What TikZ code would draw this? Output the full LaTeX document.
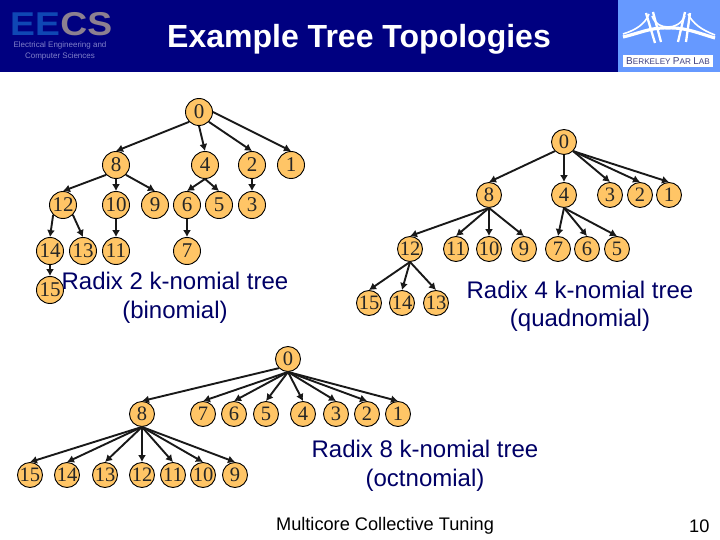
\documentclass[tikz,border=0pt]{standalone}
\usepackage{fontspec}
\setmainfont{Liberation Sans}
\newfontfamily\numfont{Liberation Serif}
\usepackage{xcolor}
\usetikzlibrary{arrows.meta, positioning}
\definecolor{headerblue}{HTML}{000080}
\definecolor{logoblue}{HTML}{6699FF}
\definecolor{eeblue}{HTML}{0F47B4}
\definecolor{csgray}{HTML}{8C8090}
\definecolor{smallblue}{HTML}{8080C8}
\definecolor{nodeorange}{HTML}{FFC566}
\definecolor{captionblue}{HTML}{000066}
\definecolor{labtext}{HTML}{404080}
\tikzset{
    treenode/.style={
        circle,
        draw=black,
        fill=nodeorange,
        line width=0.9pt,
        inner sep=0pt,
        text=black!85,
        font=\numfont\fontsize{21}{21}\selectfont
    },
    bignode/.style={treenode, minimum size=27pt},
    midnode/.style={treenode, minimum size=25pt, font=\numfont\fontsize{20.5}{20.5}\selectfont},
    flow/.style={-{Latex[length=7pt, width=8pt]}, line width=1.9pt, draw=black!90},
    caption/.style={align=center, text=captionblue, font=\fontsize{24}{28.5}\selectfont},
    footer/.style={text=black, font=\fontsize{18.2}{20}\selectfont},
    bridge/.style={draw=white, line width=2.3pt}
}

\begin{document}
\begin{tikzpicture}[x=1pt, y=-1pt]
    \useasboundingbox (0,0) rectangle (720,540);

    % header
    \fill[headerblue] (0,0) rectangle (720,72.5);
    \fill[logoblue] (618,0) rectangle (720,72.5);
    \node[font=\bfseries\fontsize{33}{33}\selectfont, text=eeblue, anchor=west, inner sep=0pt] (ee) at (10,24) {\scalebox{1.13}[1]{EE}};
    \node[font=\bfseries\fontsize{33}{33}\selectfont, text=csgray, anchor=west, inner sep=0pt] (cs) at (ee.east) {\scalebox{1.13}[1]{CS}};
    \node[font=\fontsize{8}{11.5}\selectfont, text=smallblue, align=center, inner sep=0pt] (eecssub) at (60,51) {Electrical Engineering and\\Computer Sciences};
    \node[font=\bfseries\fontsize{32}{32}\selectfont, text=white, inner sep=0pt] (title) at (359,39) {Example Tree Topologies};

    % logo
    \fill[white] (623,55) rectangle (713,67);
    \node[font=\fontsize{10}{10}\selectfont, text=labtext, inner sep=0pt] (parlab) at (668,61) {B\fontsize{8.2}{8.2}\selectfont ERKELEY \fontsize{10}{10}\selectfont P\fontsize{8.2}{8.2}\selectfont AR \fontsize{10}{10}\selectfont L\fontsize{8.2}{8.2}\selectfont AB};
    \draw[bridge, line width=3.2pt] (623,37) .. controls (640,33) and (652,27) .. (668,28) .. controls (684,27) and (698,33) .. (715,38);
    \draw[bridge, line width=1.6pt] (623,34) .. controls (636,30) and (645,24) .. (649,14);
    \draw[bridge, line width=1.6pt] (715,35) .. controls (702,30) and (693,24) .. (688,14);
    \draw[bridge, line width=1.6pt] (652,16) .. controls (655,24) and (661,27) .. (668,27) .. controls (675,27) and (681,24) .. (685,16);
    \draw[bridge] (646,13) -- (655,43) (653,12) -- (661,42);
    \draw[bridge] (690,13) -- (686,42) (685,12) -- (678,42);

    % radix 2 tree
    \node[bignode] (a0) at (199,112) {0};
    \node[bignode] (a8) at (116,165) {8};
    \node[bignode] (a4) at (205,165) {4};
    \node[bignode] (a2) at (252,165) {2};
    \node[bignode] (a1) at (291,165) {1};
    \node[bignode] (a12) at (63,205) {12};
    \node[bignode] (a10) at (116,205) {10};
    \node[bignode] (a9) at (155,205) {9};
    \node[bignode] (a6) at (187,205) {6};
    \node[bignode] (a5) at (219,205) {5};
    \node[bignode] (a3) at (252,205) {3};
    \node[bignode] (a14) at (50,251) {14};
    \node[bignode] (a13) at (83,251) {13};
    \node[bignode] (a11) at (116,251) {11};
    \node[bignode] (a7) at (187,251) {7};
    \node[bignode] (a15) at (50,290) {15};

    \draw[flow] (a0.south west) -- (a8.north);
    \draw[flow] (a0.south) -- (a4.north);
    \draw[flow] (a0.south east) -- (a2.north);
    \draw[flow] (a0.east) -- (a1.north);
    \draw[flow] (a8.south west) -- (a12.north);
    \draw[flow] (a8.south) -- (a10.north);
    \draw[flow] (a8.south east) -- (a9.north);
    \draw[flow] (a4.south) -- (a6.north);
    \draw[flow] (a4.south) -- (a5.north);
    \draw[flow] (a2.south) -- (a3.north);
    \draw[flow] (a12.south west) -- (a14.north);
    \draw[flow] (a12.south east) -- (a13.north);
    \draw[flow] (a10.south) -- (a11.north);
    \draw[flow] (a6.south) -- (a7.north);
    \draw[flow] (a14.south) -- (a15.north);

    \node[caption] (cap2) at (175,298) {Radix 2 k-nomial tree\\(binomial)};

    % radix 4 tree
    \node[midnode] (b0) at (564,142) {0};
    \node[midnode] (b8) at (489,195) {8};
    \node[midnode] (b4) at (564,195) {4};
    \node[midnode] (b3) at (610,195) {3};
    \node[midnode] (b2) at (640,195) {2};
    \node[midnode] (b1) at (669,195) {1};
    \node[midnode] (b12) at (410,249) {12};
    \node[midnode] (b11) at (456,249) {11};
    \node[midnode] (b10) at (489,249) {10};
    \node[midnode] (b9) at (524,249) {9};
    \node[midnode] (b7) at (558,249) {7};
    \node[midnode] (b6) at (587,249) {6};
    \node[midnode] (b5) at (617,249) {5};
    \node[midnode] (b15) at (369,303) {15};
    \node[midnode] (b14) at (402,303) {14};
    \node[midnode] (b13) at (436,303) {13};

    \draw[flow] (b0.south west) -- (b8.north);
    \draw[flow] (b0.south) -- (b4.north);
    \draw[flow] (b0.south east) -- (b3.north);
    \draw[flow] (b0.south east) -- (b2.north);
    \draw[flow] (b0.south east) -- (b1.north);
    \draw[flow] (b8.south) -- (b12.north);
    \draw[flow] (b8.south) -- (b11.north);
    \draw[flow] (b8.south) -- (b10.north);
    \draw[flow] (b8.south) -- (b9.north);
    \draw[flow] (b4.south) -- (b7.north);
    \draw[flow] (b4.south) -- (b6.north);
    \draw[flow] (b4.south) -- (b5.north);
    \draw[flow] (b12.south) -- (b15.north);
    \draw[flow] (b12.south) -- (b14.north);
    \draw[flow] (b12.south) -- (b13.north);

    \node[caption] (cap4) at (580,306.5) {Radix 4 k-nomial tree\\(quadnomial)};

    % radix 8 tree
    \node[midnode] (c0) at (288,359) {0};
    \node[midnode] (c8) at (142,414) {8};
    \node[midnode] (c7) at (203,414) {7};
    \node[midnode] (c6) at (234,414) {6};
    \node[midnode] (c5) at (266,414) {5};
    \node[midnode] (c4) at (303,414) {4};
    \node[midnode] (c3) at (336,414) {3};
    \node[midnode] (c2) at (367,414) {2};
    \node[midnode] (c1) at (398,414) {1};
    \node[midnode] (c15) at (30,475) {15};
    \node[midnode] (c14) at (67,475) {14};
    \node[midnode] (c13) at (105,475) {13};
    \node[midnode] (c12) at (142,475) {12};
    \node[midnode] (c11) at (173,475) {11};
    \node[midnode] (c10) at (203,475) {10};
    \node[midnode] (c9) at (235,475) {9};

    \draw[flow] (c0.south west) -- (c8.north);
    \draw[flow] (c0.south) -- (c7.north);
    \draw[flow] (c0.south) -- (c6.north);
    \draw[flow] (c0.south) -- (c5.north);
    \draw[flow] (c0.south) -- (c4.north);
    \draw[flow] (c0.south) -- (c3.north);
    \draw[flow] (c0.south) -- (c2.north);
    \draw[flow] (c0.south) -- (c1.north);
    \draw[flow] (c8.south) -- (c15.north);
    \draw[flow] (c8.south) -- (c14.north);
    \draw[flow] (c8.south) -- (c13.north);
    \draw[flow] (c8.south) -- (c12.north);
    \draw[flow] (c8.south) -- (c11.north);
    \draw[flow] (c8.south) -- (c10.north);
    \draw[flow] (c8.south) -- (c9.north);

    \node[caption] (cap8) at (425,466) {Radix 8 k-nomial tree\\(octnomial)};

    % footer
    \node[footer] (foot) at (385,526) {Multicore Collective Tuning};
    \node[footer, anchor=east] (pagenum) at (713,526) {10};
\end{tikzpicture}
\end{document}
